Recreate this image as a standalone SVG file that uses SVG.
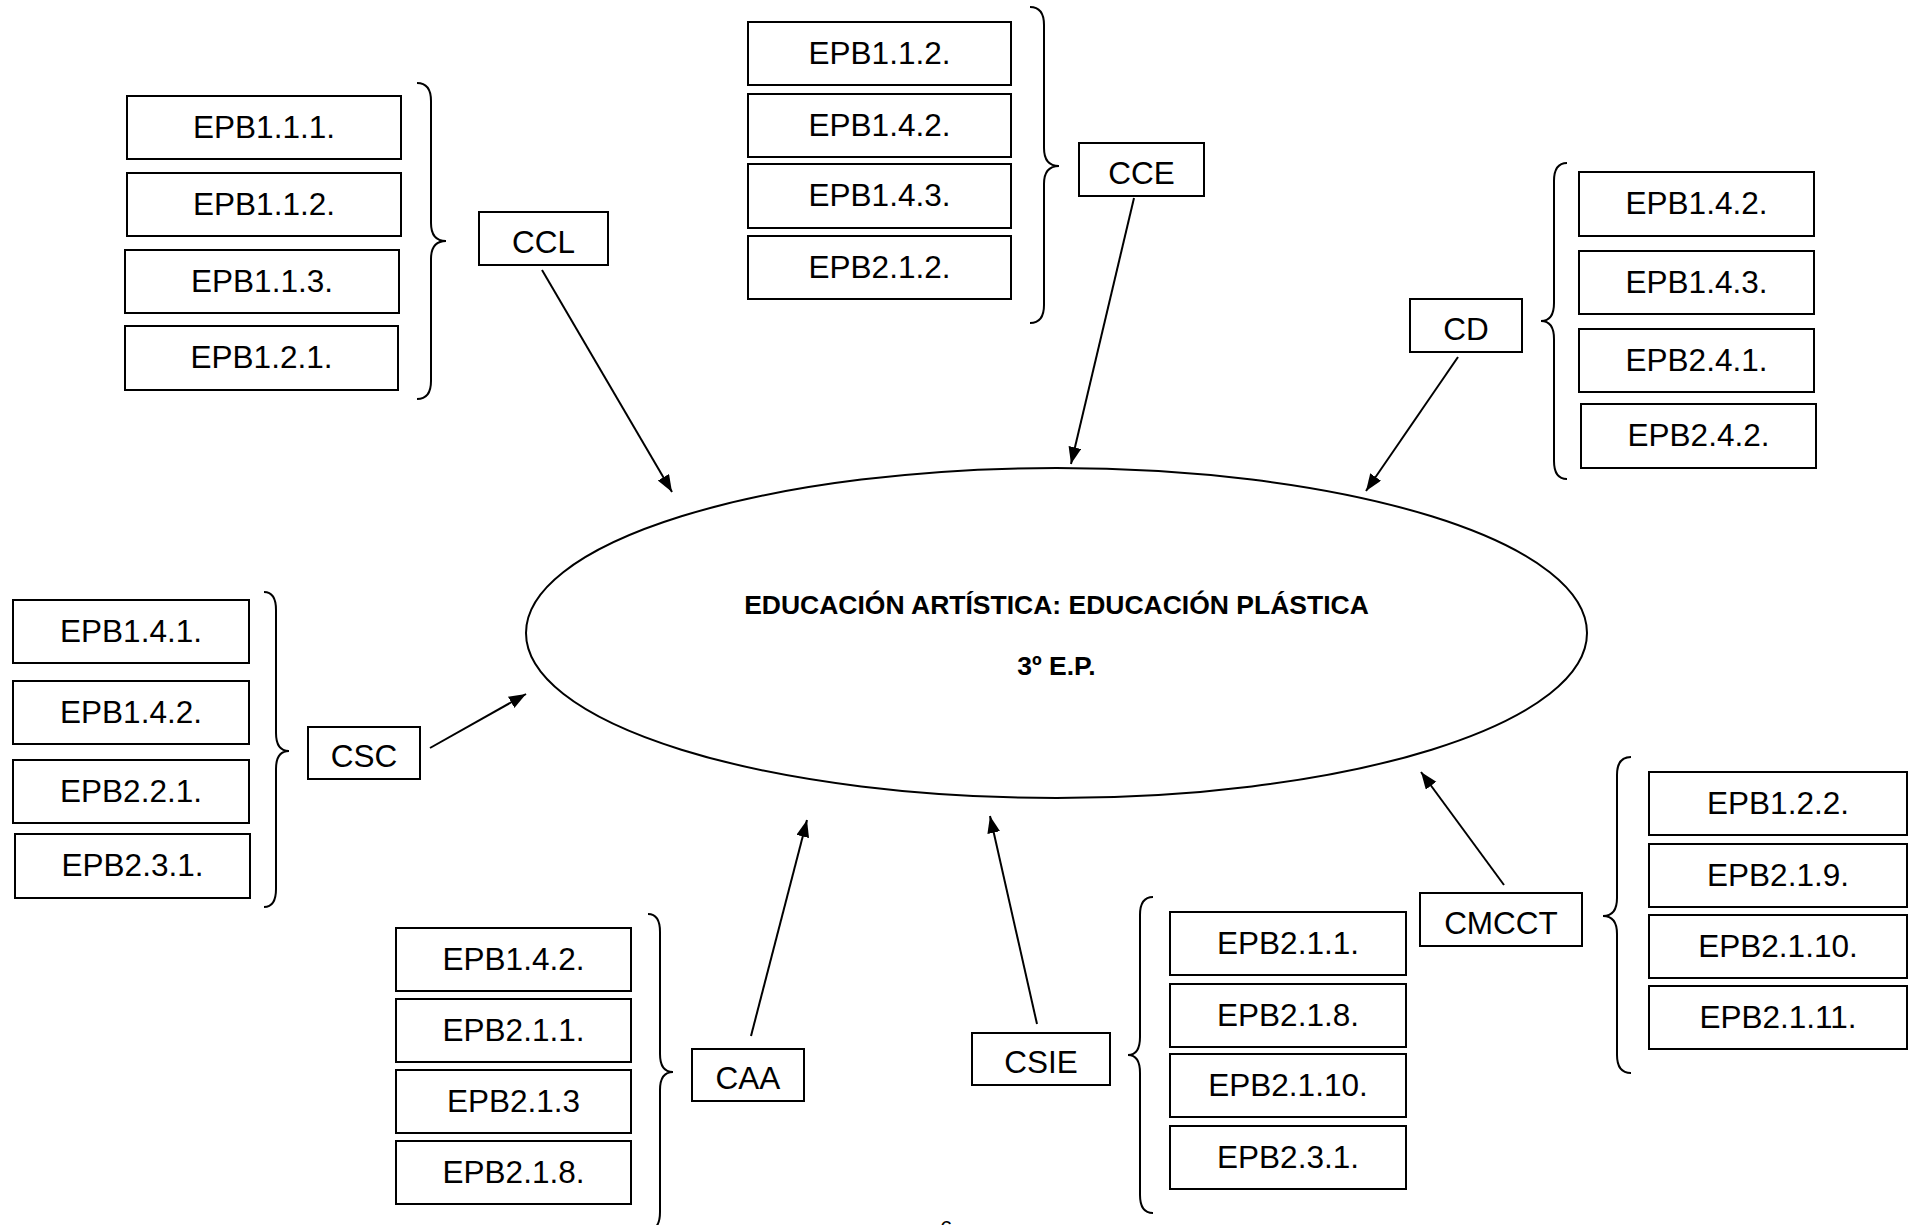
<svg xmlns="http://www.w3.org/2000/svg" width="1910" height="1225" viewBox="0 0 1910 1225">
<defs>
<style>
.b{fill:#fff;stroke:#000;stroke-width:2}
.t{font-family:"Liberation Sans",Arial,sans-serif;font-size:31.5px;fill:#000;text-anchor:middle}
.br{fill:none;stroke:#000;stroke-width:2}
.c{stroke:#000;stroke-width:2;fill:none;marker-end:url(#ah)}
.title{font-family:"Liberation Sans",Arial,sans-serif;font-size:26.5px;font-weight:bold;fill:#000;text-anchor:middle}
</style>
<marker id="ah" markerUnits="userSpaceOnUse" markerWidth="18" markerHeight="14" refX="17" refY="6.5" orient="auto">
<path d="M0,0 L17,6.5 L0,13 z" fill="#000"/>
</marker>
</defs>
<rect width="1910" height="1225" fill="#fff"/>

<g id="center">
<ellipse cx="1056.5" cy="633" rx="530.5" ry="165" fill="#fff" stroke="#000" stroke-width="2"/>
<text class="title" x="1056.5" y="614">EDUCACIÓN ARTÍSTICA: EDUCACIÓN PLÁSTICA</text>
<text class="title" x="1056.5" y="675">3º E.P.</text>
</g>

<g id="connectors">
<line class="c" x1="542" y1="270" x2="672" y2="492"/>
<line class="c" x1="1134" y1="198" x2="1071" y2="464"/>
<line class="c" x1="1458" y1="357" x2="1366" y2="491"/>
<line class="c" x1="430" y1="748" x2="526" y2="694"/>
<line class="c" x1="751" y1="1036" x2="807" y2="820"/>
<line class="c" x1="1037" y1="1024" x2="990" y2="816"/>
<line class="c" x1="1504" y1="885" x2="1421" y2="772"/>
</g>

<g id="group-ccl">
<rect class="b" x="127" y="96" width="274" height="63"/><text class="t" x="264" y="137.5">EPB1.1.1.</text>
<rect class="b" x="127" y="173" width="274" height="63"/><text class="t" x="264" y="214.5">EPB1.1.2.</text>
<rect class="b" x="125" y="250" width="274" height="63"/><text class="t" x="262" y="291.5">EPB1.1.3.</text>
<rect class="b" x="125" y="326" width="273" height="64"/><text class="t" x="261.5" y="368">EPB1.2.1.</text>
<path class="br" d="M417,83 Q431,83 431,101 L431,223 Q431,241 446,241 Q431,241 431,259 L431,381 Q431,399 417,399"/>
</g>
<g id="node-ccl">
<rect class="b" x="479" y="212" width="129" height="53"/><text class="t" x="543.5" y="252.5">CCL</text>
</g>

<g id="group-cce">
<rect class="b" x="748" y="22" width="263" height="63"/><text class="t" x="879.5" y="63.5">EPB1.1.2.</text>
<rect class="b" x="748" y="94" width="263" height="63"/><text class="t" x="879.5" y="135.5">EPB1.4.2.</text>
<rect class="b" x="748" y="164" width="263" height="64"/><text class="t" x="879.5" y="206">EPB1.4.3.</text>
<rect class="b" x="748" y="236" width="263" height="63"/><text class="t" x="879.5" y="277.5">EPB2.1.2.</text>
<path class="br" d="M1030,7 Q1044,7 1044,25 L1044,148 Q1044,166 1059,166 Q1044,166 1044,184 L1044,305 Q1044,323 1030,323"/>
</g>
<g id="node-cce">
<rect class="b" x="1079" y="143" width="125" height="53"/><text class="t" x="1141.5" y="183.5">CCE</text>
</g>

<g id="group-cd">
<rect class="b" x="1579" y="172" width="235" height="64"/><text class="t" x="1696.5" y="214">EPB1.4.2.</text>
<rect class="b" x="1579" y="251" width="235" height="63"/><text class="t" x="1696.5" y="292.5">EPB1.4.3.</text>
<rect class="b" x="1579" y="329" width="235" height="63"/><text class="t" x="1696.5" y="370.5">EPB2.4.1.</text>
<rect class="b" x="1581" y="404" width="235" height="64"/><text class="t" x="1698.5" y="446">EPB2.4.2.</text>
<path class="br" d="M1567,163 Q1554,163 1554,181 L1554,303 Q1554,321 1541,321 Q1554,321 1554,339 L1554,461 Q1554,479 1567,479"/>
</g>
<g id="node-cd">
<rect class="b" x="1410" y="299" width="112" height="53"/><text class="t" x="1466" y="339.5">CD</text>
</g>

<g id="group-csc">
<rect class="b" x="13" y="600" width="236" height="63"/><text class="t" x="131" y="641.5">EPB1.4.1.</text>
<rect class="b" x="13" y="681" width="236" height="63"/><text class="t" x="131" y="722.5">EPB1.4.2.</text>
<rect class="b" x="13" y="760" width="236" height="63"/><text class="t" x="131" y="801.5">EPB2.2.1.</text>
<rect class="b" x="15" y="834" width="235" height="64"/><text class="t" x="132.5" y="876">EPB2.3.1.</text>
<path class="br" d="M264,592 Q276,592 276,610 L276,733 Q276,751 289,751 Q276,751 276,769 L276,889 Q276,907 264,907"/>
</g>
<g id="node-csc">
<rect class="b" x="308" y="727" width="112" height="52"/><text class="t" x="364" y="767">CSC</text>
</g>

<g id="group-caa">
<rect class="b" x="396" y="928" width="235" height="63"/><text class="t" x="513.5" y="969.5">EPB1.4.2.</text>
<rect class="b" x="396" y="999" width="235" height="63"/><text class="t" x="513.5" y="1040.5">EPB2.1.1.</text>
<rect class="b" x="396" y="1070" width="235" height="63"/><text class="t" x="513.5" y="1111.5">EPB2.1.3</text>
<rect class="b" x="396" y="1141" width="235" height="63"/><text class="t" x="513.5" y="1182.5">EPB2.1.8.</text>
<path class="br" d="M648,914 Q660,914 660,932 L660,1054 Q660,1072 673,1072 Q660,1072 660,1090 L660,1212 Q660,1230 648,1230"/>
</g>
<g id="node-caa">
<rect class="b" x="692" y="1049" width="112" height="52"/><text class="t" x="748" y="1089">CAA</text>
</g>

<g id="group-csie">
<rect class="b" x="1170" y="912" width="236" height="63"/><text class="t" x="1288" y="953.5">EPB2.1.1.</text>
<rect class="b" x="1170" y="984" width="236" height="63"/><text class="t" x="1288" y="1025.5">EPB2.1.8.</text>
<rect class="b" x="1170" y="1054" width="236" height="63"/><text class="t" x="1288" y="1095.5">EPB2.1.10.</text>
<rect class="b" x="1170" y="1126" width="236" height="63"/><text class="t" x="1288" y="1167.5">EPB2.3.1.</text>
<path class="br" d="M1153,897 Q1140,897 1140,915 L1140,1037 Q1140,1055 1128,1055 Q1140,1055 1140,1073 L1140,1195 Q1140,1213 1153,1213"/>
</g>
<g id="node-csie">
<rect class="b" x="972" y="1033" width="138" height="52"/><text class="t" x="1041" y="1073">CSIE</text>
</g>

<g id="group-cmcct">
<rect class="b" x="1649" y="772" width="258" height="63"/><text class="t" x="1778" y="813.5">EPB1.2.2.</text>
<rect class="b" x="1649" y="844" width="258" height="63"/><text class="t" x="1778" y="885.5">EPB2.1.9.</text>
<rect class="b" x="1649" y="915" width="258" height="63"/><text class="t" x="1778" y="956.5">EPB2.1.10.</text>
<rect class="b" x="1649" y="986" width="258" height="63"/><text class="t" x="1778" y="1027.5">EPB2.1.11.</text>
<path class="br" d="M1631,757 Q1617,757 1617,775 L1617,898 Q1617,916 1603,916 Q1617,916 1617,934 L1617,1055 Q1617,1073 1631,1073"/>
</g>
<g id="node-cmcct">
<rect class="b" x="1420" y="893" width="162" height="53"/><text class="t" x="1501" y="933.5">CMCCT</text>
</g>

<text x="940" y="1236" style="font-family:'Liberation Sans',Arial,sans-serif;font-size:22px;fill:#000">6</text>
</svg>
